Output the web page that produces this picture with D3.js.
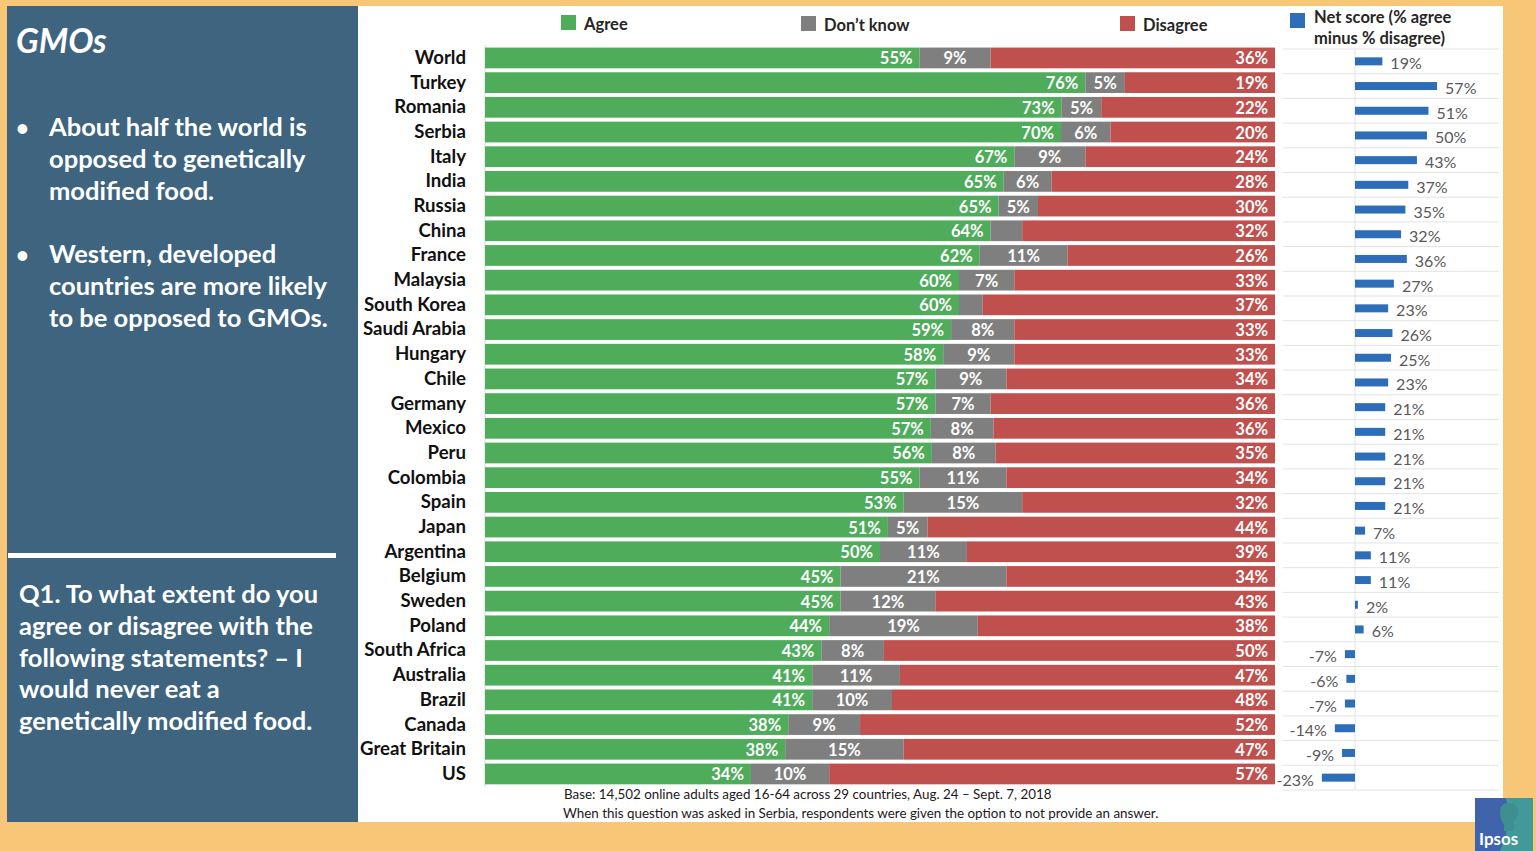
<!DOCTYPE html>
<html><head><meta charset="utf-8">
<script src="https://cdn.jsdelivr.net/npm/d3@7"></script>
<style>body{margin:0;background:#F7C677;}svg{display:block;font-family:Lato,"Open Sans",sans-serif;}</style>
</head><body>
<svg id="c" width="1536" height="851"></svg>
<script>
const countries=["World","Turkey","Romania","Serbia","Italy","India","Russia","China","France","Malaysia","South Korea","Saudi Arabia","Hungary","Chile","Germany","Mexico","Peru","Colombia","Spain","Japan","Argentina","Belgium","Sweden","Poland","South Africa","Australia","Brazil","Canada","Great Britain","US"];
const agree=[55,76,73,70,67,65,65,64,62,60,60,59,58,57,57,57,56,55,53,51,50,45,45,44,43,41,41,38,38,34];
const dontKnow=[9,5,5,6,9,6,5,4,11,7,3,8,9,9,7,8,8,11,15,5,11,21,12,19,8,11,10,9,15,10];
const disagree=[36,19,22,20,24,28,30,32,26,33,37,33,33,34,36,36,35,34,32,44,39,34,43,38,50,47,48,52,47,57];
const net=[19,57,51,50,43,37,35,32,36,27,23,26,25,23,21,21,21,21,21,7,11,11,2,6,-7,-6,-7,-14,-9,-23];
const seriesKeys=["agree","dontKnow","disagree"];
const legendLabels=["Agree","Don’t know","Disagree"];
const colors={agree:"#4EAC5B",dontKnow:"#7F7F7F",disagree:"#C0504D",net:"#2E6EB8"};

const svg=d3.select("#c");
// background panels
svg.append("rect").attr("x",0).attr("y",0).attr("width",1536).attr("height",851).attr("fill","#F7C677");
svg.append("rect").attr("x",7).attr("y",6).attr("width",351).attr("height",816).attr("fill","#3E6480");
svg.append("rect").attr("x",358).attr("y",6).attr("width",1145).attr("height",816).attr("fill","#FFFFFF");

// left panel text
const lp=svg.append("g").attr("fill","#fff").attr("font-weight",700);
lp.append("text").attr("x",16).attr("y",53).attr("font-size",33.5).attr("font-style","italic").text("GMOs");
const bullets=[["About half the world is","opposed to genetically","modified food."],["Western, developed","countries are more likely","to be opposed to GMOs."]];
const bStart=[136,263];
bullets.forEach((b,i)=>{
  lp.append("text").attr("x",16).attr("y",bStart[i]).attr("font-size",22).text("•");
  b.forEach((l,j)=>lp.append("text").attr("x",49).attr("y",bStart[i]+j*32).attr("font-size",25.5).text(l));
});
svg.append("rect").attr("x",8).attr("y",553).attr("width",328).attr("height",5).attr("fill","#fff");
const q=["Q1. To what extent do you","agree or disagree with the","following statements? – I","would never eat a","genetically modified food."];
q.forEach((l,j)=>lp.append("text").attr("x",19).attr("y",603+j*31.8).attr("font-size",25.5).text(l));

// main stacked bars
const rows=countries.map((c,i)=>({country:c,agree:agree[i],dontKnow:dontKnow[i],disagree:disagree[i]}));
const y=d3.scaleBand().domain(countries).range([45.6,786.3]).paddingInner(0.16).paddingOuter(0.08);
const x=d3.scaleLinear().domain([0,1]).range([485,1275]);
const stack=d3.stack().keys(seriesKeys).offset(d3.stackOffsetExpand)(rows);

svg.append("line").attr("x1",485).attr("x2",485).attr("y1",45).attr("y2",787).attr("stroke","#D9D9D9");

const g=svg.append("g");
stack.forEach(s=>{
  g.selectAll(null).data(s).enter().append("rect")
   .attr("x",d=>x(d[0])).attr("width",d=>x(d[1])-x(d[0]))
   .attr("y",d=>y(d.data.country)).attr("height",y.bandwidth())
   .attr("fill",colors[s.key]);
});
const lbl=svg.append("g").attr("fill","#fff").attr("font-weight",700).attr("font-size",16.5);
stack.forEach(s=>{
  s.forEach(d=>{
    const v=d.data[s.key];
    if(v<5) return;
    const cy=y(d.data.country)+y.bandwidth()/2+6.5;
    let tx,anchor;
    if(s.key==="dontKnow"){tx=(x(d[0])+x(d[1]))/2;anchor="middle";}
    else {tx=x(d[1])-7;anchor="end";}
    lbl.append("text").attr("x",tx).attr("y",cy).attr("text-anchor",anchor).text(v+"%");
  });
});
// country axis
const yAxis=svg.append("g").attr("transform","translate(485,0)").call(d3.axisLeft(y).tickSize(0).tickPadding(19));
yAxis.select(".domain").remove();
yAxis.selectAll("text").attr("font-family","Lato,sans-serif").attr("font-size",18.6).attr("font-weight",700).attr("fill","#111");

// net score panel
const yn=d3.scaleBand().domain(countries).range([49,790]);
const xn=d3.scaleLinear().domain([-50,100]).range([1283,1499]);
const ng=svg.append("g");
yn.domain().forEach((c,i)=>{
  ng.append("line").attr("x1",1283).attr("x2",1499).attr("y1",yn(c)).attr("y2",yn(c)).attr("stroke","#E3E3E3");
});
ng.append("line").attr("x1",1283).attr("x2",1499).attr("y1",790).attr("y2",790).attr("stroke","#E3E3E3");
ng.append("line").attr("x1",xn(0)).attr("x2",xn(0)).attr("y1",49).attr("y2",790).attr("stroke","#E3E3E3");
const bh=8;
ng.selectAll(".nb").data(net).enter().append("rect")
  .attr("x",d=>xn(Math.min(0,d))).attr("width",d=>Math.abs(xn(d)-xn(0)))
  .attr("y",(d,i)=>yn(countries[i])+yn.bandwidth()/2-bh/2).attr("height",bh)
  .attr("fill",colors.net);
ng.selectAll(".nl").data(net).enter().append("text")
  .attr("x",d=>d>=0?xn(d)+8:xn(d)-8)
  .attr("text-anchor",d=>d>=0?"start":"end")
  .attr("y",(d,i)=>yn(countries[i])+yn.bandwidth()/2+8)
  .attr("font-size",16).attr("fill","#595959")
  .text(d=>d+"%");

// legend
const legX=[561,801,1120];
const leg=svg.append("g").attr("font-size",16.5).attr("font-weight",700).attr("fill","#262626");
seriesKeys.forEach((k,i)=>{
  leg.append("rect").attr("x",legX[i]).attr("y",15+(i>0?1:0)).attr("width",15).attr("height",15).attr("fill",colors[k]);
  leg.append("text").attr("x",legX[i]+23).attr("y",30+(i>0?1:0)).text(legendLabels[i]);
});
leg.append("rect").attr("x",1290).attr("y",13).attr("width",15).attr("height",15).attr("fill",colors.net);
leg.append("text").attr("x",1314).attr("y",23).text("Net score (% agree");
leg.append("text").attr("x",1314).attr("y",44).text("minus % disagree)");

// footnotes
const fn=svg.append("g").attr("font-size",13.4).attr("fill","#1a1a1a");
fn.append("text").attr("x",564).attr("y",799).text("Base: 14,502 online adults aged 16-64 across 29 countries, Aug. 24 – Sept. 7, 2018");
fn.append("text").attr("x",563).attr("y",818).text("When this question was asked in Serbia, respondents were given the option to not provide an answer.");

// logo
const lg=svg.append("g");
lg.append("rect").attr("x",1475).attr("y",798).attr("width",58).attr("height",53).attr("fill","#4064AB");
lg.append("path").attr("d","M1506,798 L1533,798 L1533,851 L1500,851 Q1512,825 1506,798 Z").attr("fill","#41999A");
lg.append("path").attr("d","M1500,812 q0,-9 9,-9 q9,0 9,9 q0,6 -4,9 l0,10 l-10,0 l0,-6 q-4,-5 -4,-13 Z").attr("fill","#3E8F92");
lg.append("text").attr("x",1479).attr("y",845).attr("font-size",17).attr("font-weight",700).attr("fill","#fff").text("Ipsos");
</script>
</body></html>
